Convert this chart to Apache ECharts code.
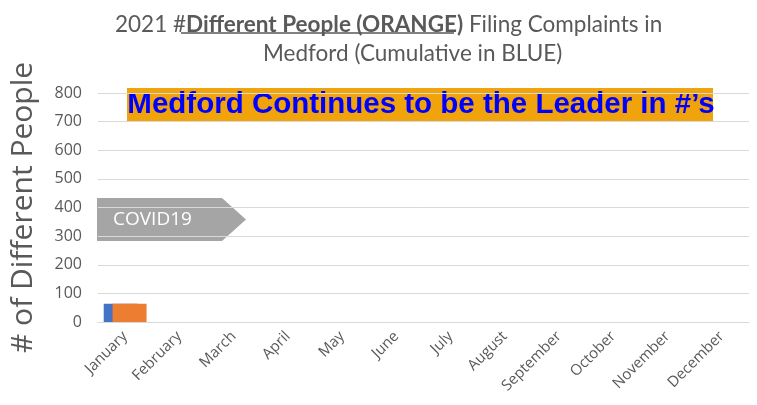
<!DOCTYPE html>
<html>
<head>
<meta charset="utf-8">
<script src="https://cdn.jsdelivr.net/npm/echarts@6/dist/echarts.min.js"></script>
<style>
  html, body { margin: 0; padding: 0; background: #fff; }
  #chart-container { width: 757px; height: 405px; }
</style>
</head>
<body>
<div id="chart-container"></div>
<script>
var months = ['January', 'February', 'March', 'April', 'May', 'June', 'July',
  'August', 'September', 'October', 'November', 'December'];
var cumulative = [64, null, null, null, null, null, null, null, null, null, null, null];
var differentPeople = [64, null, null, null, null, null, null, null, null, null, null, null];
var yTicks = { min: 0, max: 800, interval: 100 };

var dom = document.getElementById('chart-container');
var myChart = echarts.init(dom, null, { renderer: 'canvas' });

var font = '"Open Sans", "Noto Sans", sans-serif';
var titleFont = 'Lato, "Open Sans", sans-serif';
var titleRich = {
  n: { fontSize: 22.5, color: '#595959', fontFamily: titleFont, fontWeight: 'normal' },
  b: { fontSize: 22.5, color: '#595959', fontFamily: titleFont, fontWeight: 'bold' }
};

var option = {
  animation: false,
  title: [
    {
      left: 110,
      top: 8,
      text: '{n|2021 #}{b|Different People (ORANGE)}{n| Filing Complaints in}',
      textStyle: { fontWeight: 'normal', rich: titleRich }
    },
    {
      left: 258,
      top: 37,
      text: '{n|Medford (Cumulative in BLUE)}',
      textStyle: { fontWeight: 'normal', rich: titleRich }
    }
  ],
  grid: { left: 97, right: 8, top: 93, bottom: 83 },
  xAxis: {
    type: 'category',
    data: months,
    axisLine: { lineStyle: { color: '#d9d9d9' } },
    axisTick: { show: false },
    axisLabel: {
      rotate: 45,
      color: '#595959',
      fontSize: 15,
      fontFamily: font,
      interval: 0,
      margin: 12
    }
  },
  yAxis: {
    type: 'value',
    min: yTicks.min,
    max: yTicks.max,
    interval: yTicks.interval,
    name: '# of Different People',
    nameLocation: 'middle',
    nameGap: 60,
    nameTextStyle: { color: '#595959', fontSize: 30, fontFamily: font },
    axisLine: { show: false },
    axisTick: { show: false },
    axisLabel: { color: '#595959', fontSize: 16, fontFamily: font, margin: 16 },
    splitLine: { lineStyle: { color: '#d9d9d9' } }
  },
  series: [
    {
      name: 'Cumulative',
      type: 'bar',
      data: cumulative,
      barWidth: 34,
      barGap: '-74%',
      itemStyle: { color: '#4472C4' }
    },
    {
      name: 'Different People',
      type: 'bar',
      data: differentPeople,
      barWidth: 34,
      itemStyle: { color: '#ED7D31' }
    }
  ],
  graphic: [
    {
      type: 'line',
      shape: { x1: 181, y1: 33, x2: 454, y2: 33 },
      style: { stroke: '#595959', lineWidth: 1.5 }
    },
    {
      type: 'rect',
      shape: { x: 127, y: 88, width: 586, height: 33 },
      style: { fill: '#F0A30A' }
    },
    {
      type: 'text',
      x: 421,
      y: 105,
      style: {
        text: 'Medford Continues to be the Leader in #\u2019s',
        fill: '#0000FF',
        font: 'bold 29.5px "Liberation Sans", Arial, sans-serif',
        align: 'center',
        verticalAlign: 'middle'
      }
    },
    {
      type: 'polygon',
      shape: { points: [[97, 198], [222, 198], [246, 219.5], [222, 241], [97, 241]] },
      style: { fill: '#A5A5A5' }
    },
    {
      type: 'text',
      x: 113,
      y: 220,
      style: {
        text: 'COVID19',
        fill: '#ffffff',
        font: '19px ' + font,
        verticalAlign: 'middle'
      }
    }
  ]
};

myChart.setOption(option);
window.addEventListener('resize', myChart.resize);
</script>
</body>
</html>
